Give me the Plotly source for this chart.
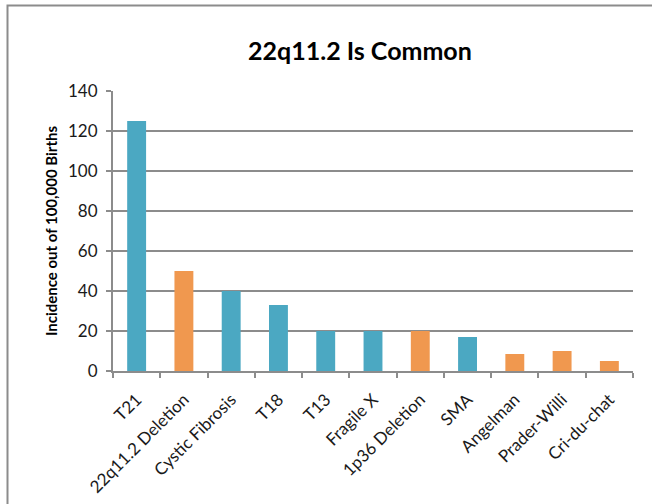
import plotly.graph_objects as go

# Incidence per 100,000 births for common genetic conditions
conditions = ["T21", "22q11.2 Deletion", "Cystic Fibrosis", "T18", "T13", "Fragile X",
              "1p36 Deletion", "SMA", "Angelman", "Prader-Willi", "Cri-du-chat"]
incidence = [125, 50, 40, 33, 20, 20, 20, 17, 8.5, 10, 5]
group = ["other", "deletion", "other", "other", "other", "other",
         "deletion", "other", "deletion", "deletion", "deletion"]
y_ticks = [0, 20, 40, 60, 80, 100, 120, 140]

palette = {"other": "#4BA8C2", "deletion": "#F0984F"}
FONT = "Lato, Calibri, Arial, sans-serif"

W, H = 652, 504
L, R, T, B = 113, 19, 91, 133
pw, ph = W - L - R, H - T - B


def px_to_paper_x(px):
    return (px - L) / pw


def px_to_paper_y(py):
    return (H - B - py) / ph


fig = go.Figure(go.Bar(
    x=conditions,
    y=incidence,
    marker=dict(color=[palette[g] for g in group], line=dict(width=0)),
    hoverinfo="x+y",
))

fig.update_layout(
    width=W, height=H,
    margin=dict(l=L, r=R, t=T, b=B),
    paper_bgcolor="white", plot_bgcolor="white",
    bargap=0.6,
    showlegend=False,
    font=dict(family=FONT, color="#1a1a1a"),
    xaxis=dict(
        type="category",
        automargin=False,
        tickangle=-45,
        tickfont=dict(size=17, color="#1a1a1a"),
        showline=True, linecolor="#8c8c8c", linewidth=2,
        ticks="outside", tickson="boundaries", ticklen=5, tickcolor="#8c8c8c", tickwidth=2,
        showgrid=False,
        ticklabelstandoff=10,
    ),
    yaxis=dict(
        range=[0, 140],
        automargin=False,
        tickvals=y_ticks,
        tickfont=dict(size=17, color="#1a1a1a"),
        showline=True, linecolor="#8c8c8c", linewidth=2,
        ticks="outside", ticklen=5, tickcolor="#8c8c8c", tickwidth=2,
        showgrid=True, gridcolor="#8c8c8c", gridwidth=1.5,
        zeroline=False,
        ticklabelstandoff=5,
        title=dict(text="<b>Incidence out of 100,000 Births</b>",
                   font=dict(size=15, color="#000000"), standoff=7),
    ),
    annotations=[dict(
        text="<b>22q11.2 Is Common</b>",
        xref="paper", yref="paper",
        x=px_to_paper_x(360), y=px_to_paper_y(50),
        xanchor="center", yanchor="middle",
        showarrow=False,
        font=dict(size=25, color="#000000", family=FONT),
    )],
    shapes=[dict(
        type="rect", xref="paper", yref="paper",
        x0=px_to_paper_x(7.5), x1=px_to_paper_x(670),
        y0=px_to_paper_y(520), y1=px_to_paper_y(5.5),
        line=dict(color="#8c8c8c", width=2),
        fillcolor="rgba(0,0,0,0)",
        layer="below",
    )],
)

fig.write_html("out.html")
